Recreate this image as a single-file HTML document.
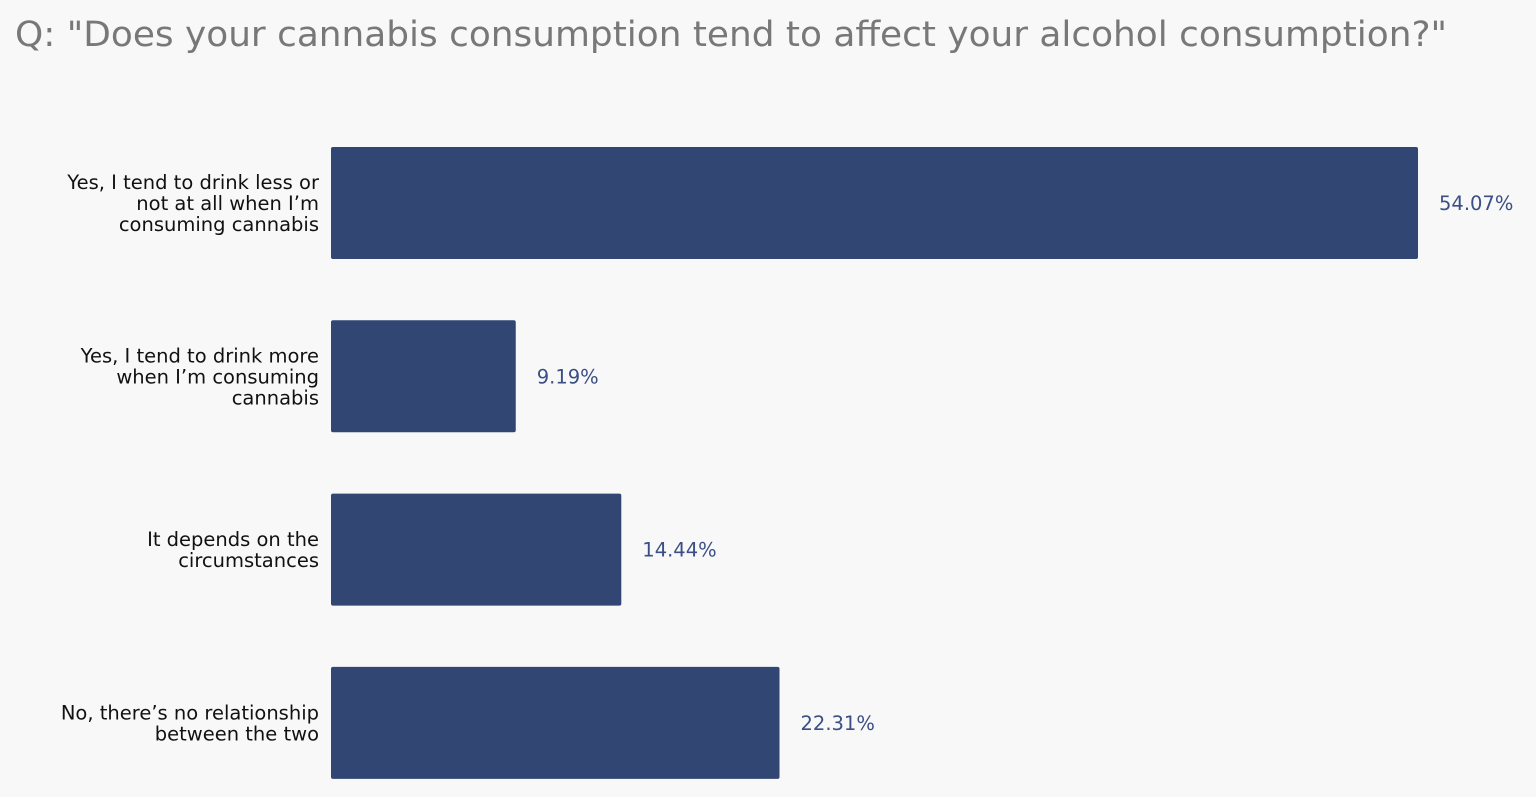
<!DOCTYPE html>
<html><head><meta charset="utf-8"><style>
html,body{margin:0;padding:0;background:#f7f8f7;}
svg{display:block;font-family:"DejaVu Sans","Liberation Sans",sans-serif;}
</style></head><body>
<svg id="chart" width="1536" height="797" viewBox="0 0 1536 797">
<rect width="1536" height="797" fill="#f7f8f7"/>
<text x="15" y="46" font-size="35" fill="#787878" textLength="1432" lengthAdjust="spacingAndGlyphs">Q: "Does your cannabis consumption tend to affect your alcohol consumption?"</text>
<g id="bars"></g>
</svg>
<script>
const categories = [
  ["Yes, I tend to drink less or","not at all when I\u2019m","consuming cannabis"],
  ["Yes, I tend to drink more","when I\u2019m consuming","cannabis"],
  ["It depends on the","circumstances"],
  ["No, there\u2019s no relationship","between the two"]
];
const values = [54.07, 9.19, 14.44, 22.31];
const valueLabels = ["54.07%","9.19%","14.44%","22.31%"];

const NS = "http://www.w3.org/2000/svg";
const x0 = 331, pxPerUnit = 1087/54.07;
const xScale = v => x0 + v * pxPerUnit;
const bandTop = 147, bandStep = 173.3, barH = 112;
const yScale = i => bandTop + i * bandStep;
const g = document.getElementById("bars");

values.forEach((v, i) => {
  const y = yScale(i);
  const r = document.createElementNS(NS, "rect");
  
  
  r.setAttribute("x", x0);
  r.setAttribute("y", y);
  r.setAttribute("width", xScale(v) - x0);
  r.setAttribute("height", barH);
  r.setAttribute("rx", 2);
  r.setAttribute("fill", "#314673");
  g.appendChild(r);

  const t = document.createElementNS(NS, "text");
  
  
  t.setAttribute("x", xScale(v) + 21);
  t.setAttribute("y", y + barH / 2 + 7);
  t.setAttribute("font-size", "19.5");
  t.setAttribute("fill", "#3b4f86");
  t.textContent = valueLabels[i];
  g.appendChild(t);

  const lines = categories[i];
  const lh = 21;
  const cy = y + barH / 2;
  const firstBase = cy - (lines.length - 1) * lh / 2 + 7;
  const lt = document.createElementNS(NS, "text");
  
  
  lt.setAttribute("text-anchor", "end");
  lt.setAttribute("font-size", "19.5");
  lt.setAttribute("fill", "#111");
  lines.forEach((ln, k) => {
    const ts = document.createElementNS(NS, "tspan");
    ts.setAttribute("x", 319);
    ts.setAttribute("y", firstBase + k * lh);
    ts.textContent = ln;
    lt.appendChild(ts);
  });
  g.appendChild(lt);
});
</script>
</body></html>
